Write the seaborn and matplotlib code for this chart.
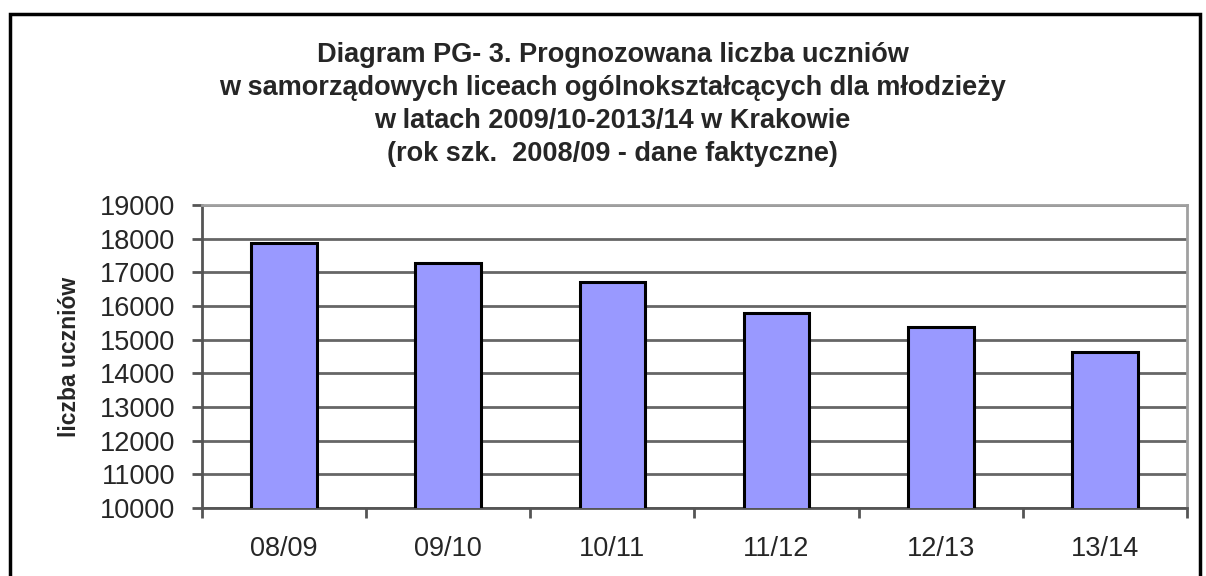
import pandas as pd
import matplotlib
matplotlib.use('Agg')
import matplotlib.pyplot as plt
import matplotlib.patches as mpatches
from matplotlib.ticker import FixedLocator
import seaborn as sns

# dane
lata = ['08/09', '09/10', '10/11', '11/12', '12/13', '13/14']
uczniowie = [17870, 17290, 16710, 15780, 15370, 14630]

df = pd.DataFrame({'rok': lata, 'liczba': uczniowie})

sns.set_style('white')
plt.rcParams['font.family'] = ['Liberation Sans', 'DejaVu Sans']

fig = plt.figure(figsize=(12.06, 5.76), dpi=100)
ax = fig.add_axes([0.1675, 0.118, 0.8167, 0.526])

sns.barplot(data=df, x='rok', y='liczba', color='#9999FF', width=0.4,
            edgecolor='black', linewidth=2.2, saturation=1, ax=ax, zorder=3)

ax.set_ylim(10000, 19000)
ax.set_yticks(range(10000, 19001, 1000))
ax.set_xlim(-0.5, 5.5)
ax.yaxis.grid(True, color='#666666', linewidth=2, zorder=0)
ax.set_axisbelow(True)

for s in ['left', 'bottom']:
    ax.spines[s].set_color('#555555')
    ax.spines[s].set_linewidth(2)
for s in ['top', 'right']:
    ax.spines[s].set_color('#a0a0a0')
    ax.spines[s].set_linewidth(2)

ax.tick_params(axis='y', labelsize=19.5, length=7, width=2, color='#555555',
               left=True, pad=12)
ax.tick_params(axis='x', labelsize=19.5, length=0, pad=20)
ax.xaxis.set_minor_locator(FixedLocator([i + 0.5 for i in range(-1, 6)]))
ax.tick_params(axis='x', which='minor', length=7, width=2, color='#555555',
               bottom=True)

ax.set_xlabel('')
ax.set_ylabel('liczba uczniów', fontsize=16.5, fontweight='bold', labelpad=14)

tytul = ['Diagram PG- 3. Prognozowana liczba uczniów',
         'w samorządowych liceach ogólnokształcących dla młodzieży',
         'w latach 2009/10-2013/14 w Krakowie',
         '(rok szk.  2008/09 - dane faktyczne)']
for i, linia in enumerate(tytul):
    fig.text(0.508, 1 - (62 + i * 33) / 576, linia, ha='center', va='baseline',
             fontsize=19.5, fontweight='bold')

# ramka wokół całego wykresu
fig.patches.append(mpatches.Rectangle((10 / 1206, -0.05), 1190 / 1206, 1.05 - 14 / 576,
                                      transform=fig.transFigure, fill=False,
                                      edgecolor='black', linewidth=2.5))

fig.savefig('out.png', dpi=100)
